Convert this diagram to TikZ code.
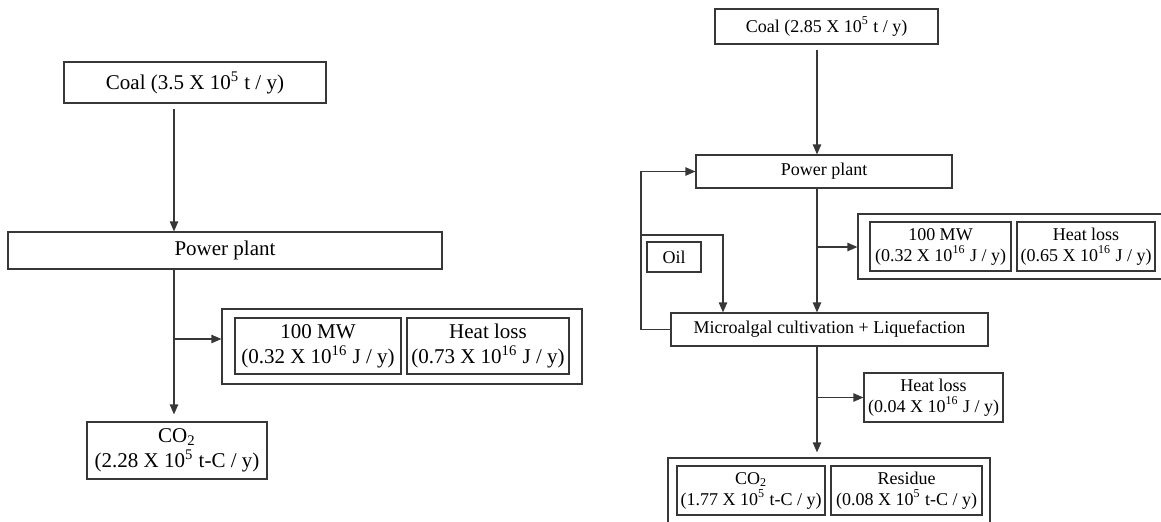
\documentclass[tikz,border=0pt]{standalone}
\usepackage{fontspec}
\setmainfont{Liberation Serif}
\usetikzlibrary{positioning, arrows.meta}
\definecolor{linegray}{RGB}{55,55,55}

\begin{document}
\begin{tikzpicture}[x=0.5pt, y=-0.5pt, >={Triangle[length=5pt, width=4.2pt]},
    flow/.style={->, draw=linegray, line width=0.6pt},
    box/.style={draw=linegray, line width=0.6pt, inner sep=0pt, align=center},
    bigtext/.style={font=\fontsize{10.5}{12.5}\selectfont},
    smalltext/.style={font=\fontsize{9}{10.5}\selectfont}]
    \useasboundingbox (0,0) rectangle (1161,521);

    % Left: coal only
    \node[box, bigtext, minimum width=131pt, minimum height=20.5pt] (coalL) at (195,82.5) {Coal (3.5 X 10\textsuperscript{5} t / y)};
    \node[box, bigtext, minimum width=217pt, minimum height=18.5pt] (plantL) at (225,250.5) {Power plant};
    \node[box, minimum width=180pt, minimum height=37.5pt] (outL) at (402,346.5) {};
    \node[box, bigtext, minimum width=83pt, minimum height=28pt] (mwL) at (318,346) {100 MW\\(0.32 X 10\textsuperscript{16} J / y)};
    \node[box, bigtext, minimum width=81pt, minimum height=28pt] (heatL) at (488,346) {Heat loss\\(0.73 X 10\textsuperscript{16} J / y)};
    \node[box, bigtext, minimum width=90pt, minimum height=28.5pt] (co2L) at (177,450.5) {CO\textsubscript{2}\\(2.28 X 10\textsuperscript{5} t-C / y)};

    \coordinate (spineL) at (174,0);
    \coordinate (tapL) at (174,339);
    \draw[flow, shorten <=2.5pt] (coalL.south -| spineL) -- (plantL.north -| spineL);
    \draw[flow, shorten >=3.5pt] (plantL.south -| spineL) -- (co2L.north -| spineL);
    \draw[flow] (tapL) -- (tapL -| outL.west);

    % Right: coal with microalgae loop
    \node[box, smalltext, minimum width=111.5pt, minimum height=17.5pt] (coalR) at (826.5,26.5) {Coal (2.85 X 10\textsuperscript{5} t / y)};
    \node[box, smalltext, minimum width=128pt, minimum height=16.5pt] (plantR) at (824,171.5) {Power plant};
    \node[box, minimum width=154pt, minimum height=32.5pt] (outR) at (1012,246.5) {};
    \node[box, smalltext, minimum width=70.5pt, minimum height=24.5pt] (mwR) at (940.5,246.5) {100 MW\\(0.32 X 10\textsuperscript{16} J / y)};
    \node[box, smalltext, minimum width=69pt, minimum height=24.5pt] (heatR) at (1086,246.5) {Heat loss\\(0.65 X 10\textsuperscript{16} J / y)};
    \node[box, smalltext, minimum width=27pt, minimum height=15pt] (oilR) at (674,257) {Oil};
    \node[box, smalltext, minimum width=158.5pt, minimum height=16.5pt] (algaeR) at (829.5,329.5) {Microalgal cultivation + Liquefaction};
    \node[box, smalltext, minimum width=69.5pt, minimum height=24.5pt] (lossR) at (933.5,397.5) {Heat loss\\(0.04 X 10\textsuperscript{16} J / y)};
    \node[box, minimum width=161pt, minimum height=34pt] (bottomR) at (829,492) {};
    \node[box, smalltext, minimum width=74pt, minimum height=24.5pt] (co2R) at (751,490.5) {CO\textsubscript{2}\\(1.77 X 10\textsuperscript{5} t-C / y)};
    \node[box, smalltext, minimum width=75.5pt, minimum height=24.5pt] (resR) at (906.5,490.5) {Residue\\(0.08 X 10\textsuperscript{5} t-C / y)};

    \coordinate (spineR) at (817,0);
    \coordinate (tapR) at (817,247);
    \coordinate (tapR2) at (817,397.5);
    \coordinate (loopR) at (641,200);
    \coordinate (oilturn) at (723,235);
    \draw[flow, shorten <=2.5pt] (coalR.south -| spineR) -- (plantR.north -| spineR);
    \draw[flow] (plantR.south -| spineR) -- (algaeR.north -| spineR);
    \draw[flow] (tapR) -- (tapR -| outR.west);
    \draw[flow] (algaeR.west) -| (loopR) |- (plantR.west);
    \draw[flow] (loopR |- oilturn) -- (oilturn) -- (oilturn |- algaeR.north);
    \draw[flow, shorten >=2.5pt] (algaeR.south -| spineR) -- (bottomR.north -| spineR);
    \draw[flow] (tapR2) -- (tapR2 -| lossR.west);
\end{tikzpicture}
\end{document}
